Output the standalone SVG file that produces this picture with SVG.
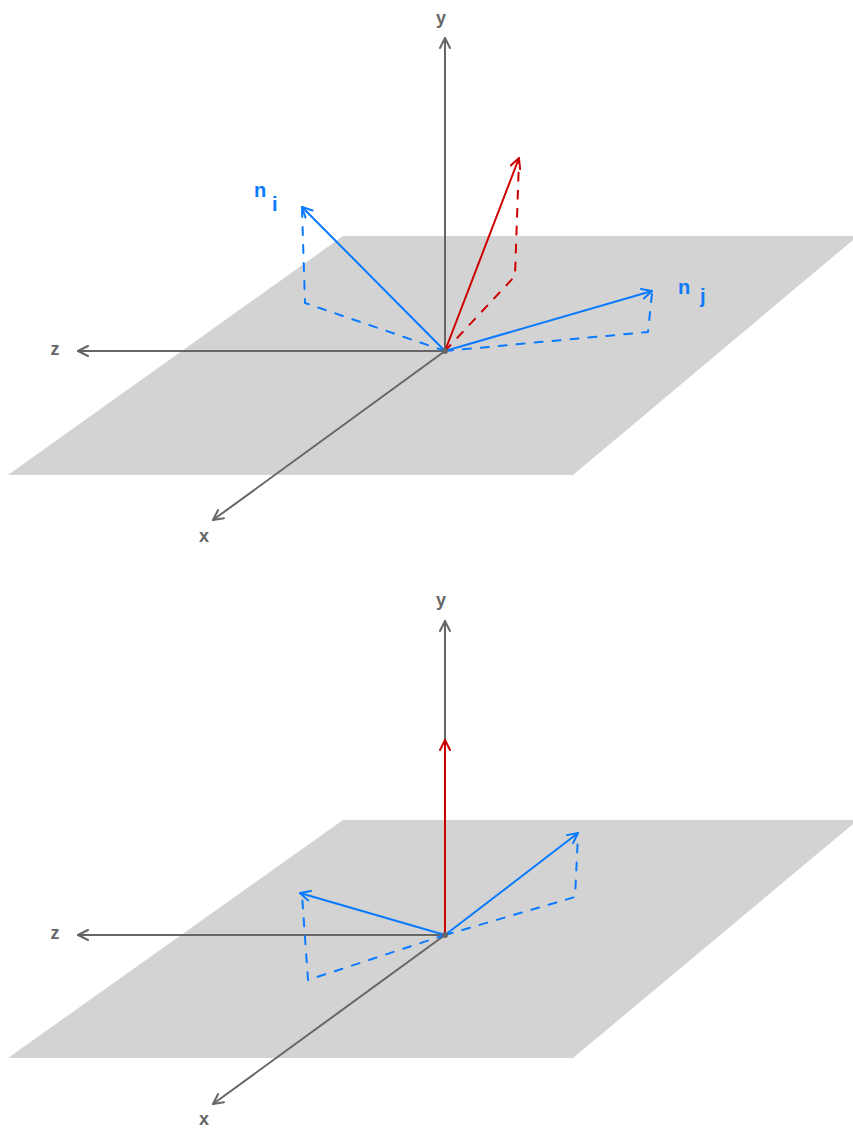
<svg xmlns="http://www.w3.org/2000/svg" width="853" height="1128" viewBox="0 0 853 1128">
<defs>
<style>
.plane{fill:#d3d3d3;stroke:none}
.axis{stroke:#666;stroke-width:2;fill:none;stroke-linecap:round}
.blue{stroke:#0a7aff;stroke-width:2;fill:none;stroke-linecap:round}
.red{stroke:#cc0000;stroke-width:2;fill:none;stroke-linecap:round}
.bdash{stroke:#0a7aff;stroke-width:2;fill:none;stroke-dasharray:8 10;stroke-linecap:round;stroke-linejoin:round}
.rdash{stroke:#cc0000;stroke-width:2;fill:none;stroke-dasharray:8 10;stroke-linecap:round;stroke-linejoin:round}
.lbl{font-family:"Liberation Sans",Arial,sans-serif;font-size:18px;font-weight:bold;fill:#666;text-anchor:middle;dominant-baseline:central}
.blbl{font-family:"Liberation Sans",Arial,sans-serif;font-size:20px;font-weight:bold;fill:#0a7aff}
</style>
<marker id="ag" viewBox="0 0 12 12" refX="11" refY="6" markerWidth="12" markerHeight="12" markerUnits="userSpaceOnUse" orient="auto"><path d="M1,1 L11,6 L1,11" fill="none" stroke="#666" stroke-width="2" stroke-linecap="round" stroke-linejoin="round"/></marker>
<marker id="ab" viewBox="0 0 12 12" refX="11" refY="6" markerWidth="12" markerHeight="12" markerUnits="userSpaceOnUse" orient="auto"><path d="M1,1 L11,6 L1,11" fill="none" stroke="#0a7aff" stroke-width="2" stroke-linecap="round" stroke-linejoin="round"/></marker>
<marker id="ar" viewBox="0 0 12 12" refX="11" refY="6" markerWidth="12" markerHeight="12" markerUnits="userSpaceOnUse" orient="auto"><path d="M1,1 L11,6 L1,11" fill="none" stroke="#cc0000" stroke-width="2" stroke-linecap="round" stroke-linejoin="round"/></marker>
</defs>
<rect width="853" height="1128" fill="#fff"/>

<g id="top-diagram">
<polygon id="plane-top" class="plane" points="8,475 343,236 853,236 853,240 573,475"/>
<g id="top-connectors">
<line class="axis" x1="445" y1="351" x2="445" y2="38" marker-end="url(#ag)"/>
<line class="axis" x1="445" y1="351" x2="78" y2="351" marker-end="url(#ag)"/>
<line class="axis" x1="445" y1="351" x2="213" y2="520" marker-end="url(#ag)"/>
<polyline class="bdash" points="445,351 305,303 302,209"/>
<polyline class="bdash" points="445,351 648,332 652,293"/>
<polyline class="rdash" points="445,351 515,276 519,160"/>
<line class="blue" x1="445" y1="351" x2="302" y2="207" marker-end="url(#ab)"/>
<line class="blue" x1="445" y1="351" x2="652" y2="291" marker-end="url(#ab)"/>
<line class="red" x1="445" y1="351" x2="519" y2="158" marker-end="url(#ar)"/>
<circle cx="445" cy="351" r="3" fill="#666"/>
</g>
<text id="lbl-y1" class="lbl" x="441" y="18">y</text>
<text id="lbl-z1" class="lbl" x="55" y="349">z</text>
<text id="lbl-x1" class="lbl" x="204" y="536">x</text>
<text id="lbl-ni" class="blbl" x="254" y="197">n<tspan x="272" y="211">i</tspan></text>
<text id="lbl-nj" class="blbl" x="678" y="294">n<tspan x="700" y="303">j</tspan></text>
</g>

<g id="bottom-diagram">
<polygon id="plane-bottom" class="plane" points="8,1058 343,820 853,820 853,824 573,1058"/>
<g id="bottom-connectors">
<line class="axis" x1="445" y1="935" x2="445" y2="621" marker-end="url(#ag)"/>
<line class="axis" x1="445" y1="935" x2="78" y2="935" marker-end="url(#ag)"/>
<line class="axis" x1="445" y1="935" x2="213" y2="1104" marker-end="url(#ag)"/>
<polyline class="bdash" points="445,935 308,980 302,895"/>
<polyline class="bdash" points="445,935 575,897 578,835"/>
<line class="blue" x1="445" y1="935" x2="300" y2="893" marker-end="url(#ab)"/>
<line class="blue" x1="445" y1="935" x2="578" y2="833" marker-end="url(#ab)"/>
<line class="red" x1="445" y1="935" x2="445" y2="740" marker-end="url(#ar)"/>
<circle cx="445" cy="935" r="3" fill="#666"/>
</g>
<text id="lbl-y2" class="lbl" x="441" y="600">y</text>
<text id="lbl-z2" class="lbl" x="55" y="933">z</text>
<text id="lbl-x2" class="lbl" x="204" y="1119">x</text>
</g>
</svg>
